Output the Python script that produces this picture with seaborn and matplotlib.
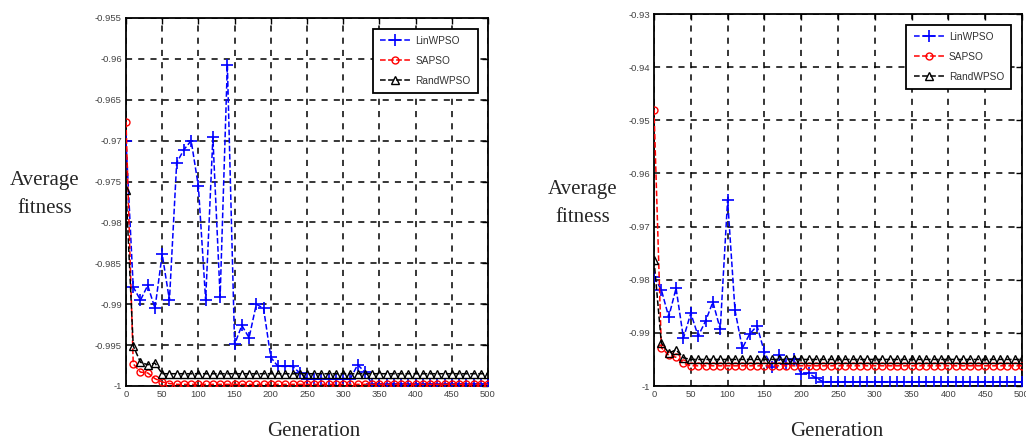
import numpy as np
import pandas as pd
import matplotlib
matplotlib.use("Agg")
import matplotlib.pyplot as plt
from matplotlib.ticker import FuncFormatter
import seaborn as sns

# ---------------- data ----------------
generations = list(range(0, 501, 10))
algorithms = ["LinWPSO", "SAPSO", "RandWPSO"]

left_lin = [-0.9700, -0.9879, -0.9895, -0.9877, -0.9905, -0.9839, -0.9895, -0.9727, -0.9711, -0.9700,
            -0.9756, -0.9895, -0.9696, -0.9891, -0.9607, -0.9949, -0.9926, -0.9941, -0.9900, -0.9905,
            -0.9965, -0.9976, -0.9976, -0.9976, -0.9984, -0.9991, -0.9991, -0.9991, -0.9991, -0.9991,
            -0.9991, -0.9991, -0.9974, -0.9983, -0.9998, -0.9998, -0.9998, -0.9998, -0.9998, -0.9998,
            -0.9998, -0.9998, -0.9998, -0.9998, -0.9998, -0.9998, -0.9998, -0.9998, -0.9998, -0.9998,
            -0.9998]
left_sa = [-0.9677, -0.9973, -0.9983, -0.9984, -0.9991, -0.9995, -0.9997, -0.9998, -0.9998, -0.9998,
           -0.9998, -0.9998, -0.9998, -0.9998, -0.9998, -0.9998, -0.9998, -0.9998, -0.9998, -0.9998,
           -0.9998, -0.9998, -0.9998, -0.9998, -0.9998, -0.9998, -0.9998, -0.9998, -0.9998, -0.9998,
           -0.9998, -0.9998, -0.9998, -0.9998, -0.9998, -0.9998, -0.9998, -0.9998, -0.9998, -0.9998,
           -0.9998, -0.9998, -0.9998, -0.9998, -0.9998, -0.9998, -0.9998, -0.9998, -0.9998, -0.9998,
           -0.9998]
left_rand = [-0.9760, -0.9951, -0.9971, -0.9974, -0.9972, -0.9985, -0.9985, -0.9985, -0.9985, -0.9985,
             -0.9985, -0.9985, -0.9985, -0.9985, -0.9985, -0.9985, -0.9985, -0.9985, -0.9985, -0.9985,
             -0.9985, -0.9985, -0.9985, -0.9985, -0.9985, -0.9985, -0.9985, -0.9985, -0.9985, -0.9985,
             -0.9985, -0.9985, -0.9985, -0.9985, -0.9985, -0.9985, -0.9985, -0.9985, -0.9985, -0.9985,
             -0.9985, -0.9985, -0.9985, -0.9985, -0.9985, -0.9985, -0.9985, -0.9985, -0.9985, -0.9985,
             -0.9985]

right_lin = [-0.9795, -0.9819, -0.9870, -0.9816, -0.9910, -0.9863, -0.9906, -0.9878, -0.9842, -0.9893,
             -0.9650, -0.9857, -0.9929, -0.9902, -0.9887, -0.9936, -0.9964, -0.9942, -0.9958, -0.9950,
             -0.9977, -0.9976, -0.9985, -0.9992, -0.9992, -0.9992, -0.9992, -0.9992, -0.9992, -0.9992,
             -0.9992, -0.9992, -0.9992, -0.9992, -0.9992, -0.9992, -0.9992, -0.9992, -0.9992, -0.9992,
             -0.9992, -0.9992, -0.9992, -0.9992, -0.9992, -0.9992, -0.9992, -0.9992, -0.9992, -0.9992,
             -0.9992]
right_sa = [-0.9480, -0.9928, -0.9942, -0.9946, -0.9957, -0.9962, -0.9962, -0.9962, -0.9962, -0.9962,
            -0.9962, -0.9962, -0.9962, -0.9962, -0.9962, -0.9962, -0.9962, -0.9962, -0.9962, -0.9962,
            -0.9962, -0.9962, -0.9962, -0.9962, -0.9962, -0.9962, -0.9962, -0.9962, -0.9962, -0.9962,
            -0.9962, -0.9962, -0.9962, -0.9962, -0.9962, -0.9962, -0.9962, -0.9962, -0.9962, -0.9962,
            -0.9962, -0.9962, -0.9962, -0.9962, -0.9962, -0.9962, -0.9962, -0.9962, -0.9962, -0.9962,
            -0.9962]
right_rand = [-0.9763, -0.9919, -0.9938, -0.9932, -0.9947, -0.9950, -0.9950, -0.9950, -0.9950, -0.9950,
              -0.9950, -0.9950, -0.9950, -0.9950, -0.9950, -0.9950, -0.9950, -0.9950, -0.9950, -0.9950,
              -0.9950, -0.9950, -0.9950, -0.9950, -0.9950, -0.9950, -0.9950, -0.9950, -0.9950, -0.9950,
              -0.9950, -0.9950, -0.9950, -0.9950, -0.9950, -0.9950, -0.9950, -0.9950, -0.9950, -0.9950,
              -0.9950, -0.9950, -0.9950, -0.9950, -0.9950, -0.9950, -0.9950, -0.9950, -0.9950, -0.9950,
              -0.9950]

x_ticks = [0, 50, 100, 150, 200, 250, 300, 350, 400, 450, 500]
left_y_ticks = [-1, -0.995, -0.99, -0.985, -0.98, -0.975, -0.97, -0.965, -0.96, -0.955]
right_y_ticks = [-1, -0.99, -0.98, -0.97, -0.96, -0.95, -0.94, -0.93]

# ---------------- style ----------------
sns.set_style("white")
plt.rcParams["font.family"] = ["Liberation Sans", "DejaVu Sans"]
plt.rcParams["axes.unicode_minus"] = False

W, H = 1026, 445
fig = plt.figure(figsize=(W / 100, H / 100), dpi=100)


def px_axes(x0, y0, x1, y1):
    return fig.add_axes([x0 / W, 1 - y1 / H, (x1 - x0) / W, (y1 - y0) / H])


ax_left = px_axes(126, 18, 488, 386)
ax_right = px_axes(654, 14, 1022, 386)

styles = {
    "LinWPSO": dict(color="blue", marker="+", ms=8, mew=1.2),
    "SAPSO": dict(color="red", marker="o", ms=5, mew=1.0),
    "RandWPSO": dict(color="black", marker="^", ms=5.5, mew=1.0),
}


def draw(ax, series, yticks, ylim):
    for name, vals in zip(algorithms, series):
        df = pd.DataFrame({"Generation": generations, "fitness": vals})
        st = styles[name]
        sns.lineplot(data=df, x="Generation", y="fitness", ax=ax, label=name,
                     color=st["color"], marker=st["marker"], markersize=st["ms"],
                     markeredgewidth=st["mew"], markeredgecolor=st["color"],
                     markerfacecolor="none", linestyle="--", linewidth=1.1,
                     dashes=(3, 2.5), zorder=3)
    ax.set_xlim(0, 500)
    ax.set_ylim(*ylim)
    ax.set_xticks(x_ticks)
    ax.set_yticks(yticks)
    ax.yaxis.set_major_formatter(FuncFormatter(lambda v, p: "%g" % round(v, 4)))
    ax.grid(True, color="black", linestyle=(0, (4, 4)), linewidth=1.1, zorder=1)
    ax.set_axisbelow(True)
    for sp in ax.spines.values():
        sp.set_color("black")
        sp.set_linewidth(1.3)
    ax.tick_params(direction="in", length=4, width=1, top=True, right=True,
                   labelsize=6.8, labelcolor="#444444", colors="black", pad=3)
    for lab in ax.get_xticklabels() + ax.get_yticklabels():
        lab.set_color("#444444")
    ax.set_xlabel("")
    ax.set_ylabel("")
    leg = ax.legend(loc="upper right", fontsize=7.3, frameon=True, fancybox=False,
                    edgecolor="black", handlelength=3.0, borderpad=0.7,
                    labelspacing=1.0, handletextpad=0.5, framealpha=1.0,
                    bbox_to_anchor=(0.985, 0.985))
    leg.get_frame().set_linewidth(1.3)
    leg.get_frame().set_facecolor("white")
    leg.set_zorder(10)
    for t in leg.get_texts():
        t.set_color("#333333")


draw(ax_left, [left_lin, left_sa, left_rand], left_y_ticks, (-1, -0.955))
draw(ax_right, [right_lin, right_sa, right_rand], right_y_ticks, (-1, -0.93))

serif = ["Liberation Serif", "DejaVu Serif"]
fig.text(45 / W, 1 - 181 / H, "Average", family=serif, fontsize=15, ha="center", va="center")
fig.text(45 / W, 1 - 209 / H, "fitness", family=serif, fontsize=15, ha="center", va="center")
fig.text(583 / W, 1 - 189 / H, "Average", family=serif, fontsize=15, ha="center", va="center")
fig.text(583 / W, 1 - 217 / H, "fitness", family=serif, fontsize=15, ha="center", va="center")
fig.text(314 / W, 1 - 431 / H, "Generation", family=serif, fontsize=15, ha="center", va="center")
fig.text(837 / W, 1 - 431 / H, "Generation", family=serif, fontsize=15, ha="center", va="center")

fig.savefig("out.png", dpi=100)
